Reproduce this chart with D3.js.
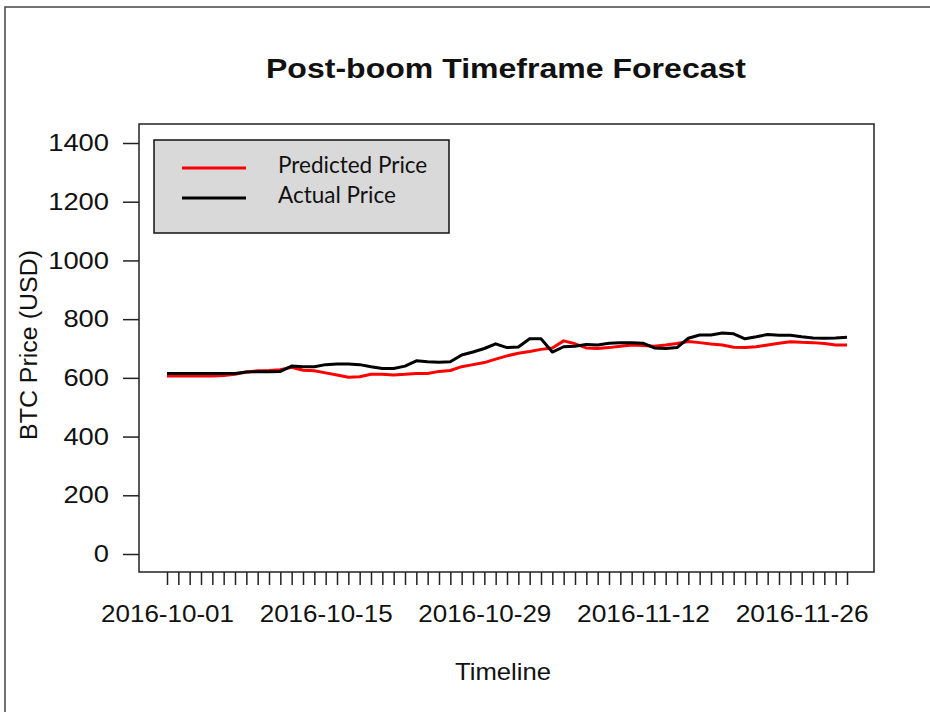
<!DOCTYPE html>
<html>
<head>
<meta charset="utf-8">
<script src="https://cdn.jsdelivr.net/npm/d3@7"></script>
<style>
  body { margin: 0; background: #fff; }
  svg text { font-family: "Liberation Sans", Arial, sans-serif; fill: #111; }
  .legend text { font-family: "Lato", "Noto Sans", sans-serif; }
</style>
</head>
<body>
<div id="chart"></div>
<script>
// data, one value per day from 2016-10-01 to 2016-11-30
var startDate = "2016-10-01";
var predicted = [606, 606, 606, 606, 606, 608, 612, 620, 624, 625,
                 628, 636, 626, 624, 617, 610, 602, 604, 612, 612,
                 610, 612, 615, 615, 622, 625, 638, 645, 652, 664,
                 675, 684, 690, 697, 702, 726, 716, 702, 700, 703,
                 708, 712, 710, 708, 712, 717, 724, 720, 715, 712,
                 704, 703, 706, 712, 718, 723, 721, 720, 717, 712,
                 712];
var actual = [615, 615, 615, 615, 615, 615, 615, 620, 621, 621,
              622, 640, 638, 638, 645, 647, 647, 645, 638, 632,
              632, 640, 658, 655, 653, 655, 678, 688, 700, 716,
              703, 705, 733, 733, 688, 706, 708, 714, 712, 718,
              720, 720, 718, 702, 700, 703, 735, 746, 746, 753,
              750, 733, 740, 748, 745, 745, 740, 736, 735, 736,
              738];
var yTicks = [0, 200, 400, 600, 800, 1000, 1200, 1400];
var xLabelDays = ["2016-10-01", "2016-10-15", "2016-10-29", "2016-11-12", "2016-11-26"];
var seriesNames = ["Predicted Price", "Actual Price"];
var seriesColors = ["#ff0000", "#000000"];

var width = 930, height = 712;

var svg = d3.select("#chart").append("svg")
	.attr("width", width)
	.attr("height", height);

// outer frame (cut off at right and bottom)
svg.append("rect")
	.attr("x", 5).attr("y", 7)
	.attr("width", 940).attr("height", 720)
	.attr("fill", "none")
	.attr("stroke", "#444")
	.attr("stroke-width", 1.5);

var parse = d3.utcParse("%Y-%m-%d");
var t0 = parse(startDate);
var dates = predicted.map(function (d, i) { return d3.utcDay.offset(t0, i); });

// scales
var xScale = d3.scaleUtc()
	.domain([dates[0], dates[dates.length - 1]])
	.range([167, 847]);
var yScale = d3.scaleLinear()
	.domain([0, 1400])
	.range([554, 143]);

// plot box
svg.append("rect")
	.attr("x", 139).attr("y", 124)
	.attr("width", 735).attr("height", 448)
	.attr("fill", "none")
	.attr("stroke", "#222")
	.attr("stroke-width", 1.5);

// title (the source image is a bit stretched sideways)
svg.append("text")
	.attr("x", 506).attr("y", 78)
	.attr("text-anchor", "middle")
	.attr("textLength", 480)
	.attr("lengthAdjust", "spacingAndGlyphs")
	.style("font-weight", "bold")
	.style("font-size", "28px")
	.text("Post-boom Timeframe Forecast");

// x axis
var labelSet = xLabelDays.map(function (s) { return +parse(s); });
var xAxis = d3.axisBottom(xScale)
	.tickValues(dates)
	.tickSize(13)
	.tickPadding(20)
	.tickFormat(function (d) {
		return labelSet.indexOf(+d) >= 0 ? d3.utcFormat("%Y-%m-%d")(d) : "";
	});
var gx = svg.append("g")
	.attr("transform", "translate(0,572)")
	.call(xAxis);
gx.select(".domain").remove();
gx.selectAll(".tick line").attr("stroke", "#222").attr("stroke-width", 1.5);
gx.selectAll(".tick text")
	.style("font-size", "24px")
	.attr("fill", "#111")
	.filter(function () { return this.textContent !== ""; })
	.attr("textLength", 133)
	.attr("lengthAdjust", "spacingAndGlyphs");

// y axis
var yAxis = d3.axisLeft(yScale)
	.tickValues(yTicks)
	.tickFormat(d3.format("d"))
	.tickSize(16)
	.tickPadding(14);
var gy = svg.append("g")
	.attr("transform", "translate(139,0)")
	.call(yAxis);
gy.select(".domain").remove();
gy.selectAll(".tick line").attr("stroke", "#222").attr("stroke-width", 1.5);
gy.selectAll(".tick text")
	.style("font-size", "24px")
	.attr("fill", "#111")
	.attr("textLength", function (d) { return String(d).length * 15.2; })
	.attr("lengthAdjust", "spacingAndGlyphs");

// axis titles
svg.append("text")
	.attr("x", 503).attr("y", 680)
	.attr("text-anchor", "middle")
	.attr("textLength", 96)
	.attr("lengthAdjust", "spacingAndGlyphs")
	.style("font-size", "24px")
	.text("Timeline");
svg.append("text")
	.attr("transform", "translate(37,345) rotate(-90)")
	.attr("text-anchor", "middle")
	.attr("textLength", 190)
	.attr("lengthAdjust", "spacingAndGlyphs")
	.style("font-size", "23px")
	.text("BTC Price (USD)");

// lines
var line = d3.line()
	.x(function (d, i) { return xScale(dates[i]); })
	.y(function (d) { return yScale(d); });

[predicted, actual].forEach(function (s, k) {
	svg.append("path")
		.datum(s)
		.attr("fill", "none")
		.attr("stroke", seriesColors[k])
		.attr("stroke-width", 3)
		.attr("stroke-linejoin", "round")
		.attr("d", line);
});

// legend
var legend = svg.append("g").attr("class", "legend");
legend.append("rect")
	.attr("x", 154).attr("y", 140)
	.attr("width", 295).attr("height", 93)
	.attr("fill", "#d9d9d9")
	.attr("stroke", "#111")
	.attr("stroke-width", 1.5);
seriesNames.forEach(function (name, k) {
	var ly = 168 + k * 30;
	legend.append("line")
		.attr("x1", 182).attr("x2", 246)
		.attr("y1", ly).attr("y2", ly)
		.attr("stroke", seriesColors[k])
		.attr("stroke-width", 3);
	legend.append("text")
		.attr("x", 278).attr("y", ly + 5)
		.style("font-size", "22.5px")
		.text(name);
});
</script>
</body>
</html>
